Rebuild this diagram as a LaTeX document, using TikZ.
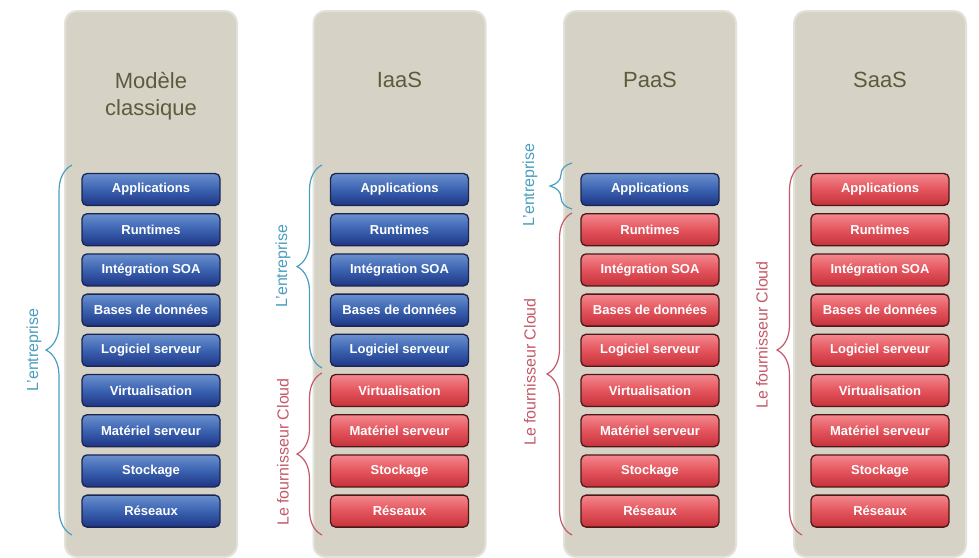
\documentclass[tikz,border=0pt]{standalone}
\usepackage{fontspec}
\setmainfont{Liberation Sans}
\usetikzlibrary{decorations.pathreplacing}
\definecolor{panelfill}{HTML}{D6D3C6}
\definecolor{panelrim}{HTML}{E2E1DA}
\definecolor{titlecol}{HTML}{5C5B3C}
\definecolor{bluetop}{HTML}{6A90CE}
\definecolor{bluemid}{HTML}{3A62B0}
\definecolor{bluebot}{HTML}{1F3584}
\definecolor{bluedraw}{HTML}{1A2552}
\definecolor{redtop}{HTML}{F3888E}
\definecolor{redmid}{HTML}{E4545C}
\definecolor{redbot}{HTML}{C5323B}
\definecolor{reddraw}{HTML}{4E1818}
\definecolor{bracebl}{HTML}{4C9EC0}
\definecolor{bracerd}{HTML}{C45A68}
\begin{document}
\begin{tikzpicture}[x=1pt,y=-1pt,
  panel/.style={draw=panelrim, line width=2pt, fill=panelfill, rounded corners=12pt,
    minimum width=172pt, minimum height=546pt, inner sep=0pt},
  titletxt/.style={text=titlecol, font=\fontsize{22}{27}\selectfont, align=center},
  boxbase/.style={rounded corners=5pt, line width=1.3pt, minimum width=138pt,
    minimum height=32pt, inner sep=0pt, text=white,
    font=\bfseries\fontsize{13}{13}\selectfont},
  bluebox/.style={boxbase, draw=bluedraw, top color=bluetop, bottom color=bluebot, middle color=bluemid},
  redbox/.style={boxbase, draw=reddraw, top color=redtop, bottom color=redbot, middle color=redmid},
  bbrace/.style={draw=bracebl, line width=1.2pt, decorate},
  rbrace/.style={draw=bracerd, line width=1.2pt, decorate},
  blab/.style={text=bracebl, rotate=90, font=\fontsize{16}{16}\selectfont},
  rlab/.style={text=bracerd, rotate=90, font=\fontsize{16}{16}\selectfont}
]
\useasboundingbox (0,0) rectangle (979,557);
\fill[white] (0,0) rectangle (979,557);
% panels
\foreach \i/\cx in {1/151,2/399.5,3/650,4/880}{
  \node[panel] (p\i) at (\cx,284) {};
}
% titles
\node[titletxt] (t1) at (151,96) {Modèle\\classique};
\node[titletxt, anchor=base] (t2) at (399.5,87) {IaaS};
\node[titletxt, anchor=base] (t3) at (650,87) {PaaS};
\node[titletxt, anchor=base] (t4) at (880,87) {SaaS};
% boxes
\foreach \c/\cx/\nb in {1/151/9,2/399.5/5,3/650/1,4/880/0}{
  \foreach \t [count=\r from 0] in {Applications,Runtimes,Intégration SOA,Bases de données,Logiciel serveur,Virtualisation,Matériel serveur,Stockage,Réseaux}{
    \ifnum\r<\nb \def\sty{bluebox}\else\def\sty{redbox}\fi
    \node[\sty] (b\c-\r) at (\cx,189.5+40.2*\r) {\t};
  }
}
% braces
\coordinate (e1t) at (72,165);  \coordinate (e1b) at (72,535);
\draw[bbrace, decoration={brace,amplitude=26pt}] (e1b) -- (e1t);
\node[blab] (l1) at (34,350) {L'entreprise};

\coordinate (e2t) at (322,165); \coordinate (e2b) at (322,368);
\draw[bbrace, decoration={brace,amplitude=25pt}] (e2b) -- (e2t);
\node[blab] (l2) at (283,266) {L'entreprise};
\coordinate (f2t) at (322,373); \coordinate (f2b) at (322,535);
\draw[rbrace, decoration={brace,amplitude=25pt}] (f2b) -- (f2t);
\node[rlab] (m2) at (283,452) {Le fournisseur Cloud};

\coordinate (e3t) at (572,163); \coordinate (e3b) at (572,209);
\draw[bbrace, decoration={brace,amplitude=22pt}] (e3b) -- (e3t);
\node[blab] (l3) at (530,185) {L'entreprise};
\coordinate (f3t) at (572,213); \coordinate (f3b) at (572,535);
\draw[rbrace, decoration={brace,amplitude=25pt}] (f3b) -- (f3t);
\node[rlab] (m3) at (530,372) {Le fournisseur Cloud};

\coordinate (f4t) at (802,165); \coordinate (f4b) at (802,535);
\draw[rbrace, decoration={brace,amplitude=25pt}] (f4b) -- (f4t);
\node[rlab] (m4) at (762,335) {Le fournisseur Cloud};
\end{tikzpicture}
\end{document}
